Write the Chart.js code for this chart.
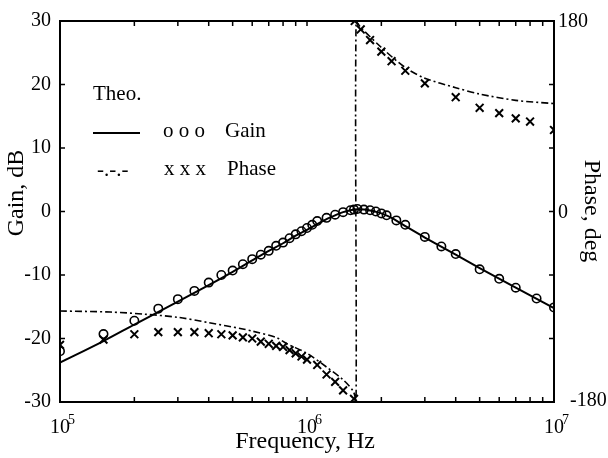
<!DOCTYPE html>
<html>
<head>
<meta charset="utf-8">
<script src="https://cdn.jsdelivr.net/npm/chart.js@4.4.1/dist/chart.umd.min.js"></script>
<style>
  body { margin: 0; background: #fff; }
  #wrap { width: 608px; height: 458px; }
</style>
</head>
<body>
<div id="wrap"><canvas id="bode" width="608" height="458"></canvas></div>
<script>
  // theoretical gain (solid line)
  const gainTheoF  = [1e5, 1.5e5, 2e5, 3e5, 4e5, 5e5, 6e5, 7e5, 8e5, 9e5, 1e6, 1.1e6, 1.2e6, 1.3e6, 1.4e6, 1.5e6, 1.6e6, 1.7e6, 1.8e6, 1.9e6, 2e6, 2.2e6, 2.5e6, 3e6, 4e6, 5e6, 7e6, 1e7];
  const gainTheoDb = [-23.8, -20.4, -17.8, -14.2, -11.6, -9.5, -7.7, -6.2, -5.0, -3.8, -2.9, -2.0, -1.2, -0.6, -0.1, 0.2, 0.35, 0.3, 0.15, -0.05, -0.3, -1.0, -2.3, -4.1, -6.8, -8.9, -12.0, -15.2];

  // theoretical phase (dash-dot), jumps from -180 to 180 at f0
  const phaseTheoF   = [1e5, 1.6e5, 2.2e5, 3e5, 4e5, 5.5e5, 6e5, 7.5e5, 8.3e5, 1e6, 1.2e6, 1.4e6, 1.54e6, 1.58e6, 1.58e6, 1.65e6, 2e6, 2.5e6, 3e6, 4e6, 5e6, 7e6, 1e7];
  const phaseTheoDeg = [-94, -95, -97, -100, -105, -111, -113, -119, -125, -134, -147, -159, -170, -180, 180, 174, 155, 136, 126, 117, 111, 105, 102];

  // measured gain (circles)
  const gainMeasF  = [1e5, 1.5e5, 2e5, 2.5e5, 3e5, 3.5e5, 4e5, 4.5e5, 5e5, 5.5e5, 6e5, 6.5e5, 7e5, 7.5e5, 8e5, 8.5e5, 9e5, 9.5e5, 1e6, 1.05e6, 1.1e6, 1.2e6, 1.3e6, 1.4e6, 1.5e6, 1.55e6, 1.6e6, 1.7e6, 1.8e6, 1.9e6, 2e6, 2.1e6, 2.3e6, 2.5e6, 3e6, 3.5e6, 4e6, 5e6, 6e6, 7e6, 8.5e6, 1e7];
  const gainMeasDb = [-22.0, -19.3, -17.2, -15.3, -13.8, -12.5, -11.2, -10.0, -9.3, -8.3, -7.5, -6.8, -6.2, -5.4, -4.9, -4.2, -3.6, -3.1, -2.6, -2.1, -1.5, -1.0, -0.5, -0.1, 0.2, 0.3, 0.4, 0.3, 0.2, 0.0, -0.3, -0.6, -1.4, -2.1, -4.0, -5.5, -6.7, -9.1, -10.6, -12.0, -13.7, -15.1];

  // measured phase (crosses)
  const phaseMeasF   = [1e5, 1.5e5, 2e5, 2.5e5, 3e5, 3.5e5, 4e5, 4.5e5, 5e5, 5.5e5, 6e5, 6.5e5, 7e5, 7.5e5, 8e5, 8.5e5, 9e5, 9.5e5, 1e6, 1.1e6, 1.2e6, 1.3e6, 1.4e6, 1.55e6, 1.56e6, 1.65e6, 1.8e6, 2e6, 2.2e6, 2.5e6, 3e6, 4e6, 5e6, 6e6, 7e6, 8e6, 1e7];
  const phaseMeasDeg = [-126, -121, -116, -114, -114, -114, -115, -116, -117, -119, -120, -123, -125, -127, -128, -131, -134, -137, -140, -145, -154, -161, -169, -177, 180, 172, 162, 151, 142, 133, 121, 108, 98, 93, 88, 85, 77];

  const gainTicks = [-30, -20, -10, 0, 10, 20, 30];
  const phaseTicks = [-180, -120, -60, 0, 60, 120, 180];
  const phaseLabels = [180, 0, -180];
  const decades = [5, 6, 7];

  const SERIF = '"Liberation Serif", "DejaVu Serif", serif';

  function pairs(xs, ys) {
    return xs.map((x, i) => ({ x: x, y: ys[i] }));
  }

  const framePlugin = {
    id: 'frame',
    afterDraw(chart) {
      const c = chart.ctx;
      const a = chart.chartArea;
      const sx = chart.scales.x, sy = chart.scales.y, sp = chart.scales.y2;
      c.save();
      c.strokeStyle = '#000';
      c.fillStyle = '#000';

      // frame
      c.lineWidth = 2;
      c.strokeRect(a.left, a.top, a.right - a.left, a.bottom - a.top);

      // inward ticks
      c.lineWidth = 1.5;
      c.beginPath();
      for (let d = 5; d < 7; d++) {
        for (let k = 1; k < 10; k++) {
          const px = sx.getPixelForValue(k * Math.pow(10, d));
          c.moveTo(px, a.bottom); c.lineTo(px, a.bottom - 5);
          c.moveTo(px, a.top); c.lineTo(px, a.top + 5);
        }
      }
      gainTicks.forEach(v => {
        const py = sy.getPixelForValue(v);
        c.moveTo(a.left, py); c.lineTo(a.left + 5, py);
      });
      phaseTicks.forEach(v => {
        const py = sp.getPixelForValue(v);
        c.moveTo(a.right, py); c.lineTo(a.right - 5, py);
      });
      c.stroke();

      // x tick labels 10^n
      decades.forEach(d => {
        const px = sx.getPixelForValue(Math.pow(10, d));
        c.font = '20px ' + SERIF;
        c.textAlign = 'center';
        c.textBaseline = 'alphabetic';
        c.fillText('10', px, 433);
        const w = c.measureText('10').width;
        c.font = '14px ' + SERIF;
        c.textAlign = 'left';
        c.fillText(String(d), px + w / 2 - 2, 424);
      });

      // right tick labels
      c.font = '20px ' + SERIF;
      c.textAlign = 'left';
      c.textBaseline = 'middle';
      phaseLabels.forEach(v => {
        const py = sp.getPixelForValue(v);
        const dx = v < 0 ? 16 : 4;
        const dy = v < 0 ? -1 : 1;
        c.fillText(String(v), a.right + dx, py + dy);
      });

      // axis titles
      c.font = '24px ' + SERIF;
      c.textAlign = 'center';
      c.textBaseline = 'middle';
      c.fillText('Frequency, Hz', 305, 442);
      c.save();
      c.translate(17, 193);
      c.rotate(-Math.PI / 2);
      c.fillText('Gain, dB', 0, 0);
      c.restore();
      c.save();
      c.translate(591, 211);
      c.rotate(Math.PI / 2);
      c.fillText('Phase, deg', 0, 0);
      c.restore();

      // legend
      c.font = '21px ' + SERIF;
      c.textAlign = 'left';
      c.textBaseline = 'alphabetic';
      c.fillText('Theo.', 93, 100);
      c.lineWidth = 2.2;
      c.beginPath();
      c.moveTo(93, 133); c.lineTo(140, 133);
      c.stroke();
      c.fillText('o o o', 163, 137);
      c.fillText('Gain', 225, 137);
      c.fillText('-.-.-', 97, 176);
      c.fillText('x x x', 164, 175);
      c.fillText('Phase', 227, 175);
      c.restore();
    }
  };

  const ctx = document.getElementById('bode').getContext('2d');
  new Chart(ctx, {
    type: 'scatter',
    data: {
      datasets: [
        {
          label: 'Gain theo',
          data: pairs(gainTheoF, gainTheoDb),
          yAxisID: 'y',
          showLine: true,
          borderColor: '#000',
          borderWidth: 2,
          pointRadius: 0,
          tension: 0.3
        },
        {
          label: 'Phase theo',
          data: pairs(phaseTheoF, phaseTheoDeg),
          yAxisID: 'y2',
          showLine: true,
          borderColor: '#000',
          borderWidth: 1.6,
          borderDash: [7, 3, 2, 3],
          pointRadius: 0,
          tension: 0.3
        },
        {
          label: 'Gain',
          data: pairs(gainMeasF, gainMeasDb),
          yAxisID: 'y',
          showLine: false,
          pointStyle: 'circle',
          pointRadius: 4.2,
          pointBorderWidth: 1.6,
          borderColor: '#000',
          backgroundColor: 'rgba(0,0,0,0)'
        },
        {
          label: 'Phase',
          data: pairs(phaseMeasF, phaseMeasDeg),
          yAxisID: 'y2',
          showLine: false,
          pointStyle: 'crossRot',
          pointRadius: 5.5,
          pointBorderWidth: 2,
          borderColor: '#000'
        }
      ]
    },
    options: {
      responsive: false,
      animation: false,
      layout: { padding: { top: 17, left: 0, right: 0, bottom: 0 } },
      plugins: {
        legend: { display: false },
        tooltip: { enabled: false }
      },
      scales: {
        x: {
          type: 'logarithmic',
          min: 1e5,
          max: 1e7,
          grid: { display: false, drawTicks: false },
          border: { display: false },
          ticks: { display: false },
          afterFit: s => { s.height = 56; }
        },
        y: {
          position: 'left',
          min: -30,
          max: 30,
          grid: { display: false, drawTicks: false },
          border: { display: false },
          ticks: {
            stepSize: 10,
            padding: 9,
            color: '#000',
            font: { family: SERIF, size: 20 }
          },
          afterFit: s => { s.width = 60; }
        },
        y2: {
          position: 'right',
          min: -180,
          max: 180,
          grid: { display: false, drawTicks: false },
          border: { display: false },
          ticks: { display: false, stepSize: 60 },
          afterFit: s => { s.width = 54; }
        }
      }
    },
    plugins: [framePlugin]
  });
</script>
</body>
</html>
